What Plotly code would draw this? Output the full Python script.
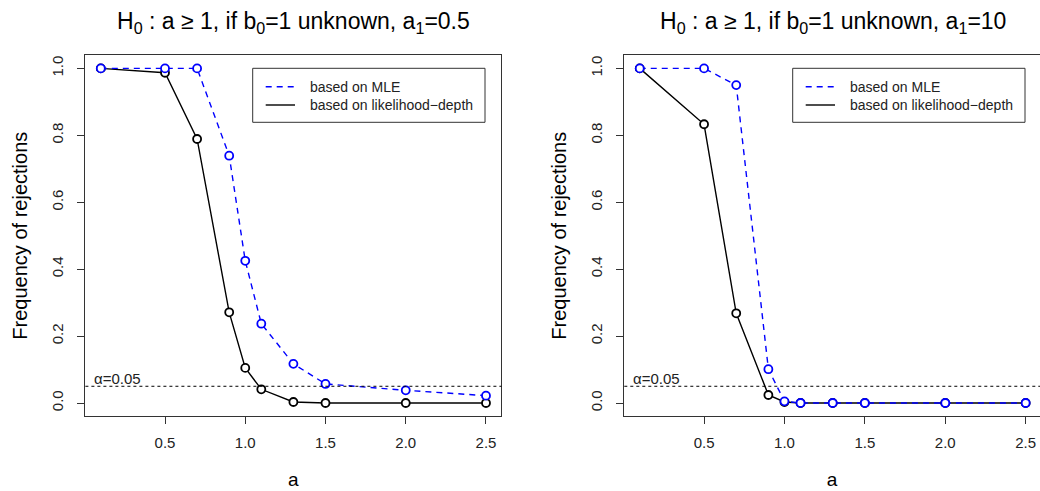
import plotly.graph_objects as go

# ---- data ----
a_vals = [0.1, 0.5, 0.7, 0.9, 1.0, 1.1, 1.3, 1.5, 2.0, 2.5]
mle_a1_05 = [1.0, 1.0, 1.0, 0.739, 0.425, 0.237, 0.117, 0.057, 0.038, 0.022]
depth_a1_05 = [1.0, 0.987, 0.789, 0.271, 0.105, 0.041, 0.003, 0.0, 0.0, 0.0]
mle_a1_10 = [1.0, 1.0, 0.950, 0.101, 0.005, 0.0, 0.0, 0.0, 0.0, 0.0]
depth_a1_10 = [1.0, 0.833, 0.268, 0.024, 0.003, 0.0, 0.0, 0.0, 0.0, 0.0]
alpha = 0.05
x_ticks = [0.5, 1.0, 1.5, 2.0, 2.5]
y_ticks = [0.0, 0.2, 0.4, 0.6, 0.8, 1.0]
titles = ["H<sub>0</sub> : a \u2265 1, if b<sub>0</sub>=1 unknown, a<sub>1</sub>=0.5",
          "H<sub>0</sub> : a \u2265 1, if b<sub>0</sub>=1 unknown, a<sub>1</sub>=10"]
legend_labels = ["based on MLE", "based on likelihood\u2212depth"]
x_title = "a"
y_title = "Frequency of rejections"

W, H = 1040, 491
FONT = "Liberation Sans, Arial, Helvetica, sans-serif"


def px(x):
    return x / W


def py(y):
    return 1 - y / H


fig = go.Figure()

panels = [
    dict(mle=mle_a1_05, depth=depth_a1_05, xa="x", ya="y", left=85.4, right=501.4),
    dict(mle=mle_a1_10, depth=depth_a1_10, xa="x2", ya="y2", left=624.3, right=1041.4),
]

for p in panels:
    fig.add_trace(go.Scatter(
        x=a_vals, y=p["depth"], xaxis=p["xa"], yaxis=p["ya"], mode="lines+markers",
        line=dict(color="black", width=1.4),
        marker=dict(symbol="circle", size=8, color="white", line=dict(color="black", width=1.8)),
        showlegend=False, cliponaxis=False))
    fig.add_trace(go.Scatter(
        x=a_vals, y=p["mle"], xaxis=p["xa"], yaxis=p["ya"], mode="lines+markers",
        line=dict(color="#0000FF", width=1.4, dash="6px,5px"),
        marker=dict(symbol="circle", size=8, color="white", line=dict(color="#0000FF", width=1.8)),
        showlegend=False, cliponaxis=False))

axis_common = dict(showgrid=False, zeroline=False, showline=True, linecolor="#333333",
                   linewidth=1, mirror=True, ticks="outside", ticklen=7, tickwidth=1,
                   tickcolor="#333333", tickfont=dict(family=FONT, size=15, color="#222222"),
                   tickformat=".1f")
xtitle = dict(text=x_title, font=dict(family=FONT, size=19, color="black"), standoff=22)
ytitle = dict(text=y_title, font=dict(family=FONT, size=20, color="black"), standoff=16)

ydom = [py(416.4), py(55.0)]
fig.update_layout(
    xaxis=dict(domain=[px(85.4), px(501.4)], range=[0.004, 2.596], tickvals=x_ticks,
               anchor="y", ticklabelstandoff=6, title=xtitle, **axis_common),
    yaxis=dict(domain=ydom, range=[-0.04, 1.04], tickvals=y_ticks, tickangle=-90,
               anchor="x", ticklabelstandoff=8, title=ytitle, **axis_common),
    xaxis2=dict(domain=[px(624.3), 1.0], range=[0.004, 0.004 + (1040 - 624.3) / 160.8],
                tickvals=x_ticks, anchor="y2", ticklabelstandoff=6, title=xtitle, **axis_common),
    yaxis2=dict(domain=ydom, range=[-0.04, 1.04], tickvals=y_ticks, tickangle=-90,
                anchor="x2", ticklabelstandoff=8, title=ytitle, **axis_common),
)

shapes = []
annotations = []
for i, p in enumerate(panels):
    xa, ya = p["xa"], p["ya"]
    xref_dom = ("x" if xa == "x" else "x2") + " domain"
    # alpha line
    shapes.append(dict(type="line", xref=xref_dom, x0=0, x1=1, yref=ya, y0=alpha, y1=alpha,
                       line=dict(color="black", width=1, dash="3px,3px")))
    annotations.append(dict(xref=xref_dom, x=0.016, yref=ya, y=alpha, text="\u03b1=0.05",
                            showarrow=False, xanchor="left", yanchor="bottom", yshift=-3,
                            font=dict(family=FONT, size=15, color="#222222")))
    cx = (p["left"] + p["right"]) / 2
    # title
    annotations.append(dict(xref="paper", yref="paper", x=px(cx), y=py(23), text=titles[i],
                            showarrow=False, xanchor="center", yanchor="middle",
                            font=dict(family=FONT, size=23, color="black")))
    # legend box
    off = 0 if i == 0 else 540
    shapes.append(dict(type="rect", xref="paper", yref="paper",
                       x0=px(252.7 + off), x1=px(485 + off), y0=py(122.3), y1=py(68.3),
                       line=dict(color="#333333", width=1), fillcolor="white", layer="above"))
    for j, (col, dash, yy) in enumerate([("#0000FF", "6px,5px", 86.7), ("black", "solid", 105)]):
        shapes.append(dict(type="line", xref="paper", yref="paper",
                           x0=px(265.7 + off), x1=px(295 + off), y0=py(yy), y1=py(yy),
                           line=dict(color=col, width=1.4, dash=dash), layer="above"))
        annotations.append(dict(xref="paper", yref="paper", x=px(307.7 + off), y=py(yy),
                                text=legend_labels[j], showarrow=False, xanchor="left",
                                yanchor="middle", font=dict(family=FONT, size=14, color="#222222")))

fig.update_layout(shapes=shapes, annotations=annotations, width=W, height=H, autosize=False,
                  margin=dict(l=0, r=0, t=0, b=0), paper_bgcolor="white", plot_bgcolor="white",
                  showlegend=False)

fig.write_html("out.html")
